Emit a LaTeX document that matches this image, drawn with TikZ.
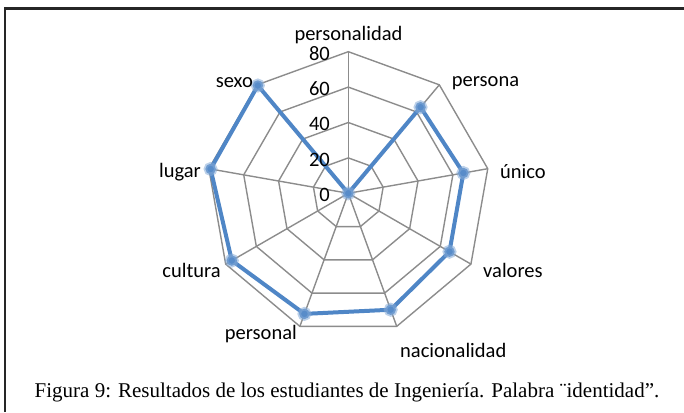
\documentclass[tikz,border=0pt]{standalone}
\usepackage{fontspec}
\setmainfont{Liberation Serif}
\newfontfamily\labfont{Carlito}
\usetikzlibrary{shapes.geometric}
\definecolor{gridgray}{HTML}{8C8C8C}
\definecolor{serblue}{HTML}{4F86C6}
\begin{document}
\begin{tikzpicture}[x=1pt,y=1pt,
  gridline/.style={draw=gridgray,line width=1.4pt},
  series/.style={draw=serblue,line width=4pt,line join=round},
  mk/.style={circle,minimum size=10.5pt,inner sep=0pt,fill=serblue!95,draw=serblue!70,line width=3.5pt,draw opacity=0.55},
  lab/.style={font=\labfont\fontsize{20.5}{21}\selectfont,inner sep=0pt},
  captext/.style={font=\fontsize{21}{23}\selectfont,inner sep=0pt},
  frameline/.style={draw=black!85,line width=2.4pt}]
\useasboundingbox (0,0) rectangle (684,412);
\coordinate (O) at (348.3,218.7);
\foreach \n/\a in {0/90,1/50,2/10,3/-30,4/-70,5/-110,6/-150,7/170,8/130} {
  \foreach \k in {1,...,4} {\coordinate (r\k-\n) at ([shift={(\a:{35.4*\k})}]O);}
}
\foreach \k in {1,...,4} {
  \draw[gridline] (r\k-0) -- (r\k-1) -- (r\k-2) -- (r\k-3) -- (r\k-4) -- (r\k-5) -- (r\k-6) -- (r\k-7) -- (r\k-8) -- cycle;
}
\foreach \n in {0,...,8} {\draw[gridline] (O) -- (r4-\n);}
% data
\foreach \n/\a/\v in {0/90/0,1/50/63.5,2/10/66,3/-30/66,4/-70/70,5/-110/72.5,6/-150/76,7/170/79,8/130/79.5} {
  \coordinate (d\n) at ([shift={(\a:{1.77*\v})}]O);
}
\draw[series] (d0) -- (d1) -- (d2) -- (d3) -- (d4) -- (d5) -- (d6) -- (d7) -- (d8) -- cycle;
\foreach \n in {0,...,8} {\node[mk] (m\n) at (d\n) {};}
% scale labels
\foreach \k/\t in {0/0,1/20,2/40,3/60,4/80} {
  \node[lab,anchor=east] (s\k) at (330,{218.7+35.4*\k-1.6}) {\t};
}
% axis labels
\node[lab] (l0) at (348.5,377) {personalidad};
\node[lab,anchor=west] (l1) at (451.7,329) {persona};
\node[lab,anchor=west] (l2) at (500,240) {único};
\node[lab,anchor=west] (l3) at (483,142) {valores};
\node[lab,anchor=west] (l4) at (400,62) {nacionalidad};
\node[lab,anchor=east] (l5) at (297,78) {personal};
\node[lab,anchor=east] (l6) at (221,142) {cultura};
\node[lab,anchor=east] (l7) at (201,240) {lugar};
\node[lab,anchor=east] (l8) at (253,329) {sexo};
% caption
\node[captext,anchor=base] (caption) at (347,15) {Figura 9: Resultados de los estudiantes de Ingeniería. Palabra ¨identidad”.};
% frame
\coordinate (fa) at (5,0);
\coordinate (fb) at (5,403.5);
\coordinate (fc) at (684,403.5);
\draw[frameline] (fa) -- (fb) -- (fc);
\end{tikzpicture}
\end{document}
